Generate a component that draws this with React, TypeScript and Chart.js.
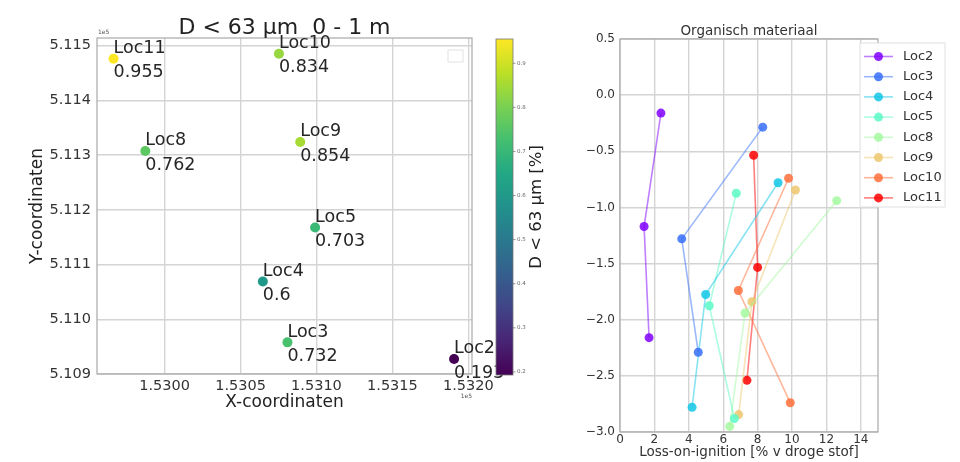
import React, { useEffect, useRef } from 'react';
import { Chart, registerables } from 'chart.js';

Chart.register(...registerables);

// ---------- data ----------
const LOCATIONS = ['Loc2', 'Loc3', 'Loc4', 'Loc5', 'Loc8', 'Loc9', 'Loc10', 'Loc11'];

// map (x/y coordinates in units of 1e5 m)
const MAP_X = [1.531906, 1.530809, 1.530647, 1.530991, 1.529873, 1.530893, 1.530753, 1.529664];
const MAP_Y = [5.109274, 5.109578, 5.110691, 5.111677, 5.113075, 5.113239, 5.114852, 5.114761];
const FRACTION_FINE = [0.193, 0.732, 0.6, 0.703, 0.762, 0.854, 0.834, 0.955];

const MAP_X_TICKS = [1.53, 1.5305, 1.531, 1.5315, 1.532];
const MAP_Y_TICKS = [5.109, 5.11, 5.111, 5.112, 5.113, 5.114, 5.115];
const CBAR_TICKS = [0.2, 0.3, 0.4, 0.5, 0.6, 0.7, 0.8, 0.9];

// loss-on-ignition profiles (LOI %, depth m)
const LOI_LOC2 = [2.38, 1.4, 1.69];
const DEPTH_LOC2 = [-0.16, -1.17, -2.16];
const LOI_LOC3 = [8.3, 3.59, 4.55];
const DEPTH_LOC3 = [-0.285, -1.28, -2.29];
const LOI_LOC4 = [9.19, 4.98, 4.19];
const DEPTH_LOC4 = [-0.78, -1.775, -2.78];
const LOI_LOC5 = [6.76, 5.19, 6.65];
const DEPTH_LOC5 = [-0.874, -1.876, -2.88];
const LOI_LOC8 = [12.6, 7.27, 6.38];
const DEPTH_LOC8 = [-0.94, -1.94, -2.95];
const LOI_LOC9 = [10.2, 7.67, 6.9];
const DEPTH_LOC9 = [-0.845, -1.84, -2.845];
const LOI_LOC10 = [9.8, 6.88, 9.9];
const DEPTH_LOC10 = [-0.74, -1.74, -2.74];
const LOI_LOC11 = [7.77, 8.0, 7.38];
const DEPTH_LOC11 = [-0.535, -1.534, -2.54];

const LOI_SERIES = [LOI_LOC2, LOI_LOC3, LOI_LOC4, LOI_LOC5, LOI_LOC8, LOI_LOC9, LOI_LOC10, LOI_LOC11];
const DEPTH_SERIES = [DEPTH_LOC2, DEPTH_LOC3, DEPTH_LOC4, DEPTH_LOC5, DEPTH_LOC8, DEPTH_LOC9, DEPTH_LOC10, DEPTH_LOC11];

const LOI_X_TICKS = [0, 2, 4, 6, 8, 10, 12, 14];
const DEPTH_TICKS = [-3.0, -2.5, -2.0, -1.5, -1.0, -0.5, 0.0, 0.5];

// ---------- styles ----------
const FONT = '"DejaVu Sans", "Liberation Sans", sans-serif';
const TEXT = '#333333';
const GRID = '#d4d4d4';
const FRAME = '#a9a9a9';

const RAINBOW = [
  [128, 0, 255],
  [55, 111, 249],
  [18, 199, 230],
  [91, 249, 199],
  [164, 249, 159],
  [237, 199, 111],
  [255, 111, 57],
  [255, 0, 0],
];
const rgba = (c: number[], a: number) => `rgba(${c[0]},${c[1]},${c[2]},${a})`;

const VIRIDIS = ['#440154', '#482475', '#414487', '#355f8d', '#2a788e', '#21918c', '#22a884', '#44bf70', '#7ad151', '#bddf26', '#fde725'];
const hex = (h: string) => [parseInt(h.slice(1, 3), 16), parseInt(h.slice(3, 5), 16), parseInt(h.slice(5, 7), 16)];
function viridis(t: number) {
  const tt = Math.max(0, Math.min(1, t)) * 10;
  const i = Math.min(9, Math.floor(tt));
  const f = tt - i;
  const a = hex(VIRIDIS[i]);
  const b = hex(VIRIDIS[i + 1]);
  const c = a.map((v, k) => Math.round(v + (b[k] - v) * f));
  return `rgb(${c[0]},${c[1]},${c[2]})`;
}
const V_MIN = Math.min(...FRACTION_FINE);
const V_MAX = Math.max(...FRACTION_FINE);
const norm = (v: number) => (v - V_MIN) / (V_MAX - V_MIN);

// ---------- plugins ----------
const mapOverlay = {
  id: 'mapOverlay',
  afterDatasetsDraw(chart: any) {
    const { ctx, chartArea: a } = chart;
    const meta = chart.getDatasetMeta(0);
    ctx.save();
    // frame
    ctx.strokeStyle = FRAME;
    ctx.lineWidth = 1.2;
    ctx.strokeRect(a.left, a.top, a.right - a.left, a.bottom - a.top);
    // empty legend box
    ctx.strokeStyle = '#e2e2e2';
    ctx.lineWidth = 1;
    ctx.strokeRect(a.right - 24, a.top + 12, 15, 12);
    // point labels
    ctx.fillStyle = '#262626';
    ctx.font = `17.5px ${FONT}`;
    ctx.textAlign = 'left';
    ctx.textBaseline = 'alphabetic';
    meta.data.forEach((pt: any, i: number) => {
      ctx.fillText(LOCATIONS[i], pt.x, pt.y - 5.8);
      ctx.fillText(String(FRACTION_FINE[i]), pt.x, pt.y + 18.6);
    });
    // title
    ctx.fillStyle = '#222';
    ctx.font = `22px ${FONT}`;
    ctx.textAlign = 'center';
    ctx.fillText('D < 63 µm  0 - 1 m', (a.left + a.right) / 2, a.top - 4.5);
    // offset texts
    ctx.font = `6px ${FONT}`;
    ctx.fillStyle = '#555';
    ctx.textAlign = 'left';
    ctx.fillText('1e5', a.left + 1, a.top - 4);
    ctx.textAlign = 'right';
    ctx.fillText('1e5', a.right, a.bottom + 24);
    // colorbar
    const cx0 = a.right + 24;
    const cx1 = cx0 + 17;
    const cy0 = a.top + 1;
    const cy1 = a.bottom + 1;
    const g = ctx.createLinearGradient(0, cy1, 0, cy0);
    VIRIDIS.forEach((c, i) => g.addColorStop(i / (VIRIDIS.length - 1), c));
    ctx.fillStyle = g;
    ctx.fillRect(cx0, cy0, cx1 - cx0, cy1 - cy0);
    ctx.strokeStyle = '#777';
    ctx.lineWidth = 0.8;
    ctx.strokeRect(cx0, cy0, cx1 - cx0, cy1 - cy0);
    const vy = (v: number) => cy1 - norm(v) * (cy1 - cy0);
    ctx.fillStyle = '#666';
    ctx.font = `5.5px ${FONT}`;
    ctx.textAlign = 'left';
    ctx.textBaseline = 'middle';
    CBAR_TICKS.forEach((v) => {
      const y = vy(v);
      ctx.beginPath();
      ctx.moveTo(cx1, y);
      ctx.lineTo(cx1 + 2.5, y);
      ctx.stroke();
      ctx.fillText(v.toFixed(1), cx1 + 4, y);
    });
    // colorbar label
    ctx.save();
    ctx.translate(cx1 + 24, (cy0 + cy1) / 2);
    ctx.rotate(-Math.PI / 2);
    ctx.textAlign = 'center';
    ctx.textBaseline = 'middle';
    ctx.fillStyle = '#222';
    ctx.font = `16.5px ${FONT}`;
    ctx.fillText('D < 63 µm [%]', 0, 0);
    ctx.restore();
    ctx.restore();
  },
};

const profileOverlay = {
  id: 'profileOverlay',
  beforeDatasetsDraw(chart: any) {
    const { ctx, chartArea: a } = chart;
    ctx.save();
    ctx.strokeStyle = FRAME;
    ctx.lineWidth = 1.2;
    ctx.strokeRect(a.left, a.top, a.right - a.left, a.bottom - a.top);
    ctx.restore();
  },
  afterDatasetsDraw(chart: any) {
    const { ctx, chartArea: a } = chart;
    ctx.save();
    // title
    ctx.fillStyle = '#333';
    ctx.font = `13.5px ${FONT}`;
    ctx.textAlign = 'center';
    ctx.textBaseline = 'middle';
    ctx.fillText('Organisch materiaal', (a.left + a.right) / 2, a.top - 8);
    // legend
    const lx = a.right - 18;
    const ly = a.top + 4;
    const lw = 85;
    const lh = 164;
    ctx.fillStyle = 'rgba(255,255,255,0.92)';
    ctx.fillRect(lx, ly, lw, lh);
    ctx.strokeStyle = '#e0e0e0';
    ctx.lineWidth = 1;
    ctx.strokeRect(lx, ly, lw, lh);
    ctx.font = `13px ${FONT}`;
    ctx.textAlign = 'left';
    ctx.textBaseline = 'middle';
    chart.data.datasets.forEach((ds: any, i: number) => {
      const y = ly + 13.5 + i * 20.2;
      ctx.strokeStyle = ds.borderColor;
      ctx.lineWidth = 1.6;
      ctx.beginPath();
      ctx.moveTo(lx + 4, y);
      ctx.lineTo(lx + 33, y);
      ctx.stroke();
      ctx.fillStyle = ds.backgroundColor;
      ctx.beginPath();
      ctx.arc(lx + 18.5, y, 4.5, 0, Math.PI * 2);
      ctx.fill();
      ctx.fillStyle = '#333';
      ctx.fillText(ds.label, lx + 43, y);
    });
    ctx.restore();
  },
};

export default function App() {
  const leftRef = useRef<HTMLCanvasElement>(null);
  const rightRef = useRef<HTMLCanvasElement>(null);

  useEffect(() => {
    document.body.style.margin = '0';
    const left = new Chart(leftRef.current as HTMLCanvasElement, {
      type: 'scatter',
      data: {
        datasets: [
          {
            label: 'D < 63 µm',
            data: MAP_X.map((x, i) => ({ x, y: MAP_Y[i] })),
            backgroundColor: FRACTION_FINE.map((v) => viridis(norm(v))),
            pointRadius: 5,
            pointHoverRadius: 5,
            borderWidth: 0,
          },
        ],
      },
      options: {
        animation: false,
        responsive: false,
        events: [],
        layout: { padding: { left: 23, top: 38, right: 98, bottom: 0 } },
        plugins: { legend: { display: false }, tooltip: { enabled: false } },
        scales: {
          x: {
            type: 'linear',
            min: 1.529555,
            max: 1.532024,
            afterBuildTicks: (s: any) => {
              s.ticks = MAP_X_TICKS.map((value) => ({ value }));
            },
            afterFit: (s: any) => {
              s.height = 88;
            },
            grid: { color: GRID, lineWidth: 1.4, drawTicks: false },
            border: { display: false },
            ticks: {
              color: TEXT,
              font: { family: FONT, size: 14.5 },
              padding: 4,
              maxRotation: 0,
              autoSkip: false,
              callback: (v: any) => Number(v).toFixed(4),
            },
            title: {
              display: true,
              text: 'X-coordinaten',
              color: '#222',
              font: { family: FONT, size: 17 },
              padding: { top: 0, bottom: 49 },
            },
          },
          y: {
            type: 'linear',
            min: 5.109,
            max: 5.11514,
            afterBuildTicks: (s: any) => {
              s.ticks = MAP_Y_TICKS.map((value) => ({ value }));
            },
            afterFit: (s: any) => {
              s.width = 74;
            },
            grid: { color: GRID, lineWidth: 1.4, drawTicks: false },
            border: { display: false },
            ticks: {
              color: TEXT,
              font: { family: FONT, size: 14.5 },
              padding: 6,
              autoSkip: false,
              callback: (v: any) => Number(v).toFixed(3),
            },
            title: {
              display: true,
              text: 'Y-coordinaten',
              color: '#222',
              font: { family: FONT, size: 17 },
              padding: { top: 4, bottom: 0 },
            },
          },
        },
      },
      plugins: [mapOverlay],
    } as any);

    const right = new Chart(rightRef.current as HTMLCanvasElement, {
      type: 'scatter',
      data: {
        datasets: LOCATIONS.map((name, k) => ({
          label: name,
          data: LOI_SERIES[k].map((x, i) => ({ x, y: DEPTH_SERIES[k][i] })),
          showLine: true,
          borderColor: rgba(RAINBOW[k], 0.5),
          backgroundColor: rgba(RAINBOW[k], 0.85),
          borderWidth: 1.6,
          pointRadius: 4.5,
          pointHoverRadius: 4.5,
          pointBorderWidth: 0,
        })),
      },
      options: {
        animation: false,
        responsive: false,
        events: [],
        layout: { padding: { left: 0, top: 39, right: 82, bottom: 0 } },
        plugins: { legend: { display: false }, tooltip: { enabled: false } },
        scales: {
          x: {
            type: 'linear',
            min: 0,
            max: 15,
            afterBuildTicks: (s: any) => {
              s.ticks = LOI_X_TICKS.map((value) => ({ value }));
            },
            afterFit: (s: any) => {
              s.height = 30;
            },
            grid: { color: GRID, lineWidth: 1.4, drawTicks: false },
            border: { display: false },
            ticks: {
              color: TEXT,
              font: { family: FONT, size: 12 },
              padding: 1,
              maxRotation: 0,
              autoSkip: false,
              callback: (v: any) => String(v),
            },
            title: {
              display: true,
              text: 'Loss-on-ignition [% v droge stof]',
              color: '#333',
              font: { family: FONT, size: 13.5 },
              padding: { top: 0, bottom: 1 },
            },
          },
          y: {
            type: 'linear',
            min: -3.0,
            max: 0.5,
            afterBuildTicks: (s: any) => {
              s.ticks = DEPTH_TICKS.map((value) => ({ value }));
            },
            afterFit: (s: any) => {
              s.width = 50;
            },
            grid: { color: GRID, lineWidth: 1.4, drawTicks: false },
            border: { display: false },
            ticks: {
              color: TEXT,
              font: { family: FONT, size: 12 },
              padding: 5,
              autoSkip: false,
              callback: (v: any) => Number(v).toFixed(1).replace('-', '\u2212'),
            },
          },
        },
      },
      plugins: [profileOverlay],
    } as any);

    return () => {
      left.destroy();
      right.destroy();
    };
  }, []);

  return (
    <div style={{ position: 'fixed', left: 0, top: 0, width: 960, height: 462, background: '#fff' }}>
      <canvas ref={leftRef} width={570} height={462} style={{ position: 'absolute', left: 0, top: 0, width: 570, height: 462 }} />
      <canvas ref={rightRef} width={390} height={462} style={{ position: 'absolute', left: 570, top: 0, width: 390, height: 462 }} />
    </div>
  );
}
